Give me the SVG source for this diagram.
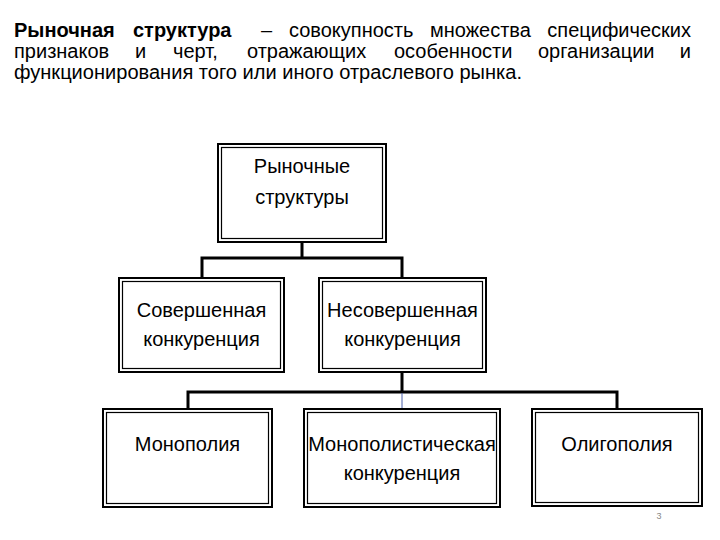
<svg xmlns="http://www.w3.org/2000/svg" width="720" height="540" viewBox="0 0 720 540">
<style>
.t{font-family:"Liberation Sans",Arial,sans-serif;font-size:20px;fill:#000}
.b{font-weight:bold}
.n{font-family:"Liberation Sans",Arial,sans-serif;font-size:20px;fill:#000;text-anchor:middle}
.o{fill:#fff;stroke:#000;stroke-width:2}
.i{fill:none;stroke:#000;stroke-width:1.2}
.c{fill:none;stroke:#000;stroke-width:3;stroke-linecap:square}
</style>
<rect width="720" height="540" fill="#fff"/>
<g id="title">
<text class="t" y="37"><tspan class="b" x="14">Рыночная</tspan><tspan class="b" x="133">структура</tspan><tspan x="261">–</tspan><tspan x="289">совокупность</tspan><tspan x="430">множества</tspan><tspan x="691" text-anchor="end">специфических</tspan></text>
<text class="t" y="58"><tspan x="14">признаков</tspan><tspan x="135">и</tspan><tspan x="173">черт,</tspan><tspan x="247">отражающих</tspan><tspan x="394">особенности</tspan><tspan x="538">организации</tspan><tspan x="691" text-anchor="end">и</tspan></text>
<text class="t" x="14" y="79" textLength="508" lengthAdjust="spacingAndGlyphs">функционирования того или иного отраслевого рынка.</text>
</g>
<g id="connectors">
<path class="c" d="M302 243V258M202 258H402M202 258V277M402 258V277"/>
<path class="c" d="M402 373V392M188 392H617M188 392V408M617 392V408"/>
<path d="M402 393V408" stroke="#4a5fa8" stroke-width="1"/>
</g>
<g id="n-root">
<rect class="o" x="218" y="144" width="168" height="98"/>
<rect class="i" x="221.5" y="147.5" width="161" height="91"/>
<text class="n" x="302" y="173">Рыночные</text>
<text class="n" x="302" y="204">структуры</text>
</g>
<g id="n-perfect">
<rect class="o" x="119" y="278" width="165" height="94"/>
<rect class="i" x="122.5" y="281.5" width="158" height="87"/>
<text class="n" x="201.5" y="317">Совершенная</text>
<text class="n" x="201.5" y="346">конкуренция</text>
</g>
<g id="n-imperfect">
<rect class="o" x="319" y="278" width="167" height="94"/>
<rect class="i" x="322.5" y="281.5" width="160" height="87"/>
<text class="n" x="402.5" y="317">Несовершенная</text>
<text class="n" x="402.5" y="346">конкуренция</text>
</g>
<g id="n-monopoly">
<rect class="o" x="103" y="409" width="169" height="98"/>
<rect class="i" x="106.5" y="412.5" width="162" height="91"/>
<text class="n" x="187.5" y="451">Монополия</text>
</g>
<g id="n-monocomp">
<rect class="o" x="304" y="409" width="196" height="98"/>
<rect class="i" x="307.5" y="412.5" width="189" height="91"/>
<text class="n" x="402" y="451">Монополистическая</text>
<text class="n" x="402" y="480">конкуренция</text>
</g>
<g id="n-oligopoly">
<rect class="o" x="532" y="409" width="170" height="97"/>
<rect class="i" x="535.5" y="412.5" width="163" height="90"/>
<text class="n" x="617" y="451">Олигополия</text>
</g>
<text x="659" y="519" font-family="Liberation Sans,Arial,sans-serif" font-size="9" fill="#888" text-anchor="middle">3</text>
</svg>
